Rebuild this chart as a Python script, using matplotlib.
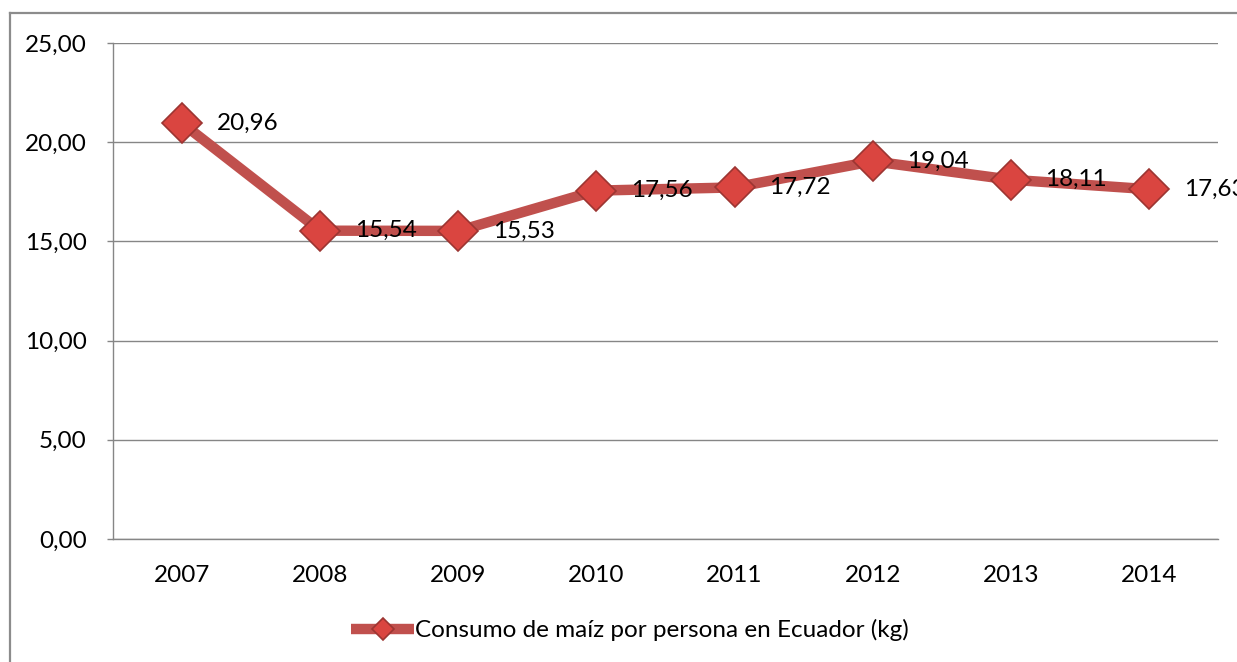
import matplotlib.pyplot as plt
from matplotlib.lines import Line2D
from matplotlib.ticker import FuncFormatter

# data
years = ['2007', '2008', '2009', '2010', '2011', '2012', '2013', '2014']
consumo = [20.96, 15.54, 15.53, 17.56, 17.72, 19.04, 18.11, 17.63]
serie = 'Consumo de maíz por persona en Ecuador (kg)'

plt.rcParams['font.family'] = ['Lato', 'DejaVu Sans']
fs = 17.5

fig = plt.figure(figsize=(12.37, 6.62), dpi=100)
ax = fig.add_axes([113 / 1237, 1 - 539 / 662, 1105 / 1237, 496 / 662])

line_col = '#C0504D'
x = list(range(len(years)))
ax.plot(x, consumo, color=line_col, lw=7.5, solid_capstyle='butt', zorder=3,
        marker='D', ms=20, mfc='#DA4540', mec='#9C3532', mew=1.2, label=serie)

for xi, v in zip(x, consumo):
    ax.annotate(f'{v:.2f}'.replace('.', ','), (xi, v), xytext=(25, 0),
                textcoords='offset points', ha='left', va='center',
                fontsize=fs, color='black', zorder=5, annotation_clip=False)

ax.set_xlim(-0.5, len(years) - 0.5)
ax.set_ylim(0, 25)
ax.set_yticks([0, 5, 10, 15, 20, 25])
ax.yaxis.set_major_formatter(FuncFormatter(lambda v, p: f'{v:.2f}'.replace('.', ',')))
ax.set_xticks(x)
ax.set_xticklabels(years)
ax.tick_params(axis='x', length=0, pad=19, labelsize=fs)
ax.tick_params(axis='y', length=4, width=1, color='#868686', pad=15, labelsize=fs)
ax.grid(axis='y', color='#868686', lw=1)
ax.set_axisbelow(True)
for s in ['top', 'right']:
    ax.spines[s].set_visible(False)
for s in ['left', 'bottom']:
    ax.spines[s].set_color('#868686')
    ax.spines[s].set_linewidth(1)

leg = ax.legend(loc='center', bbox_to_anchor=(630 / 1237, 1 - 630 / 662),
                bbox_transform=fig.transFigure, frameon=False, fontsize=fs,
                handlelength=2.6, handletextpad=0.05, markerscale=0.55)

# outer chart frame (only top and left edges show in the crop)
fig.add_artist(Line2D([10 / 1237, 10 / 1237], [0, 1 - 13 / 662], color='#8C8C8C', lw=1.6))
fig.add_artist(Line2D([10 / 1237, 1], [1 - 13 / 662, 1 - 13 / 662], color='#8C8C8C', lw=1.6))

fig.savefig('out.png', dpi=100)
